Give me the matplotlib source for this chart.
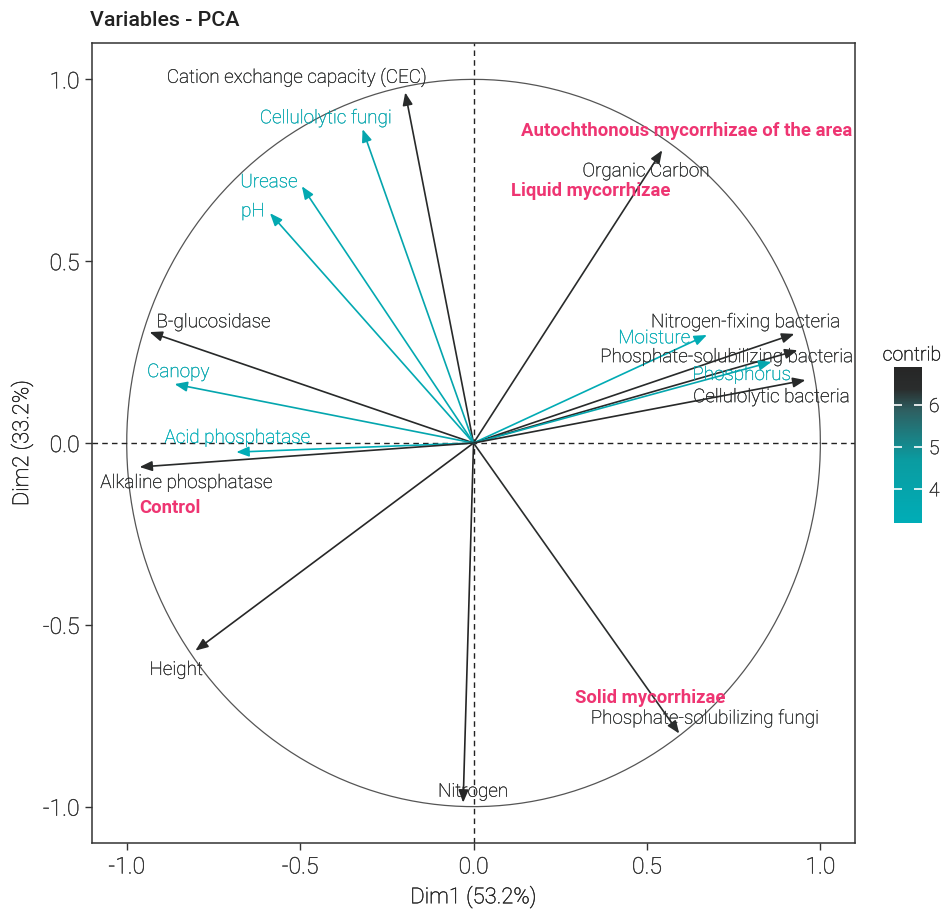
import matplotlib

matplotlib.use("Agg")
import matplotlib.patheffects as pe
import matplotlib.pyplot as plt
import numpy as np
from matplotlib.colors import LinearSegmentedColormap, Normalize

plt.rcParams["font.family"] = ["Roboto", "DejaVu Sans"]

# Variable coordinates on Dim1 / Dim2 and their contributions
variables = [
    "Cation exchange capacity (CEC)", "Cellulolytic fungi", "Urease", "pH",
    "Organic Carbon", "B-glucosidase", "Canopy", "Acid phosphatase",
    "Alkaline phosphatase", "Height", "Nitrogen", "Phosphate-solubilizing fungi",
    "Nitrogen-fixing bacteria", "Moisture", "Phosphate-solubilizing bacteria",
    "Phosphorus", "Cellulolytic bacteria",
]
dim1 = [-0.197, -0.320, -0.495, -0.587, 0.544, -0.934, -0.862, -0.684, -0.963,
        -0.802, -0.030, 0.593, 0.925, 0.673, 0.934, 0.859, 0.957]
dim2 = [0.964, 0.863, 0.706, 0.632, 0.805, 0.305, 0.162, -0.025, -0.066,
        -0.571, -0.989, -0.799, 0.300, 0.297, 0.255, 0.223, 0.173]
contrib = [6.6, 3.9, 3.6, 3.6, 6.5, 6.7, 3.8, 3.2, 6.6, 6.8, 6.9, 6.4, 6.6,
           3.4, 6.6, 3.8, 6.7]

# Supplementary qualitative categories
supp_names = ["Autochthonous mycorrhizae of the area", "Liquid mycorrhizae",
              "Control", "Solid mycorrhizae"]
supp_dim1 = [0.613, 0.337, -0.874, 0.509]
supp_dim2 = [0.857, 0.692, -0.179, -0.701]

# Repelled label positions (layout only)
label_pos = {
    "Cation exchange capacity (CEC)": (-0.509, 1.005),
    "Cellulolytic fungi": (-0.426, 0.893),
    "Urease": (-0.590, 0.717),
    "pH": (-0.636, 0.637),
    "Organic Carbon": (0.498, 0.747),
    "B-glucosidase": (-0.750, 0.332),
    "Canopy": (-0.851, 0.195),
    "Acid phosphatase": (-0.681, 0.014),
    "Alkaline phosphatase": (-0.828, -0.110),
    "Height": (-0.857, -0.624),
    "Nitrogen": (-0.001, -0.959),
    "Phosphate-solubilizing fungi": (0.667, -0.758),
    "Nitrogen-fixing bacteria": (0.785, 0.332),
    "Moisture": (0.521, 0.288),
    "Phosphate-solubilizing bacteria": (0.730, 0.236),
    "Phosphorus": (0.773, 0.187),
    "Cellulolytic bacteria": (0.859, 0.126),
}

cmap = LinearSegmentedColormap.from_list(
    "contrib",
    [(0.0, "#00ADB7"), (0.4, "#0A9CA1"), (0.72, "#2E6062"),
     (0.86, "#2A2D2D"), (1.0, "#262626")],
)
norm = Normalize(vmin=min(contrib), vmax=max(contrib))


def thicken(col, w=0.2):
    return [pe.withStroke(linewidth=w, foreground=col)]


fig = plt.figure(figsize=(9.42, 9.09), dpi=100)
ax = fig.add_axes([0.0977, 0.0726, 0.8100, 0.8801])

theta = np.linspace(0, 2 * np.pi, 400)
ax.plot(np.cos(theta), np.sin(theta), color="#555555", lw=0.9)
ax.axhline(0, color="#222222", lw=1.0, ls=(0, (4, 3)))
ax.axvline(0, color="#222222", lw=1.0, ls=(0, (4, 3)))

for name, x, y, c in zip(variables, dim1, dim2, contrib):
    col = cmap(norm(c))
    ax.annotate(
        "", xy=(x, y), xytext=(0, 0),
        arrowprops=dict(arrowstyle="-|>,head_length=0.75,head_width=0.3",
                        color=col, lw=1.2, shrinkA=0, shrinkB=0),
    )
    lx, ly = label_pos[name]
    ax.text(lx, ly, name, color=col, fontsize=13.6, fontweight="light",
            ha="center", va="center", path_effects=thicken(col))

for name, x, y in zip(supp_names, supp_dim1, supp_dim2):
    ax.text(x, y, name, color="#EE3572", fontsize=13.3, fontweight="bold",
            ha="center", va="center")

ax.set_xlim(-1.1, 1.1)
ax.set_ylim(-1.1, 1.1)
ticks = [-1.0, -0.5, 0.0, 0.5, 1.0]
ax.set_xticks(ticks)
ax.set_yticks(ticks)
ax.set_xticklabels([f"{t:.1f}" for t in ticks])
ax.set_yticklabels([f"{t:.1f}" for t in ticks])
ax.tick_params(length=5, width=1, color="#333333", labelsize=16.5,
               labelcolor="#333333", pad=4)
for lab in ax.get_xticklabels() + ax.get_yticklabels():
    lab.set_fontweight("light")
    lab.set_path_effects(thicken("#333333", 0.3))
for s in ax.spines.values():
    s.set_color("#333333")
    s.set_linewidth(1.1)

ax.set_xlabel("Dim1 (53.2%)", fontsize=15.8, fontweight="light",
              color="#222222", va="center", path_effects=thicken("#222222", 0.3))
ax.set_ylabel("Dim2 (33.2%)", fontsize=15.8, fontweight="light",
              color="#222222", va="center", path_effects=thicken("#222222", 0.3))
ax.xaxis.set_label_coords(0.5, -0.0675)
ax.yaxis.set_label_coords(-0.092, 0.5)
fig.text(0.0955, 0.977, "Variables - PCA", fontsize=15.4, fontweight="medium",
         ha="left", va="center", color="#222222")

# Colour bar
cax = fig.add_axes([0.949, 0.4246, 0.0297, 0.1716])
sm = plt.cm.ScalarMappable(cmap=cmap, norm=norm)
cb = fig.colorbar(sm, cax=cax, ticks=[4, 5, 6])
cb.outline.set_visible(False)
cb.ax.yaxis.set_ticks_position("both")
cb.ax.tick_params(direction="in", color="white", length=6, width=1.2,
                  labelsize=14, labelcolor="#333333", pad=5)
for lab in cb.ax.get_yticklabels():
    lab.set_fontweight("light")
    lab.set_path_effects(thicken("#333333", 0.3))
fig.text(0.968, 0.609, "contrib", fontsize=14, fontweight="light",
         ha="center", va="center", color="#222222",
         path_effects=thicken("#222222", 0.3))

fig.savefig("out.png", dpi=100)
